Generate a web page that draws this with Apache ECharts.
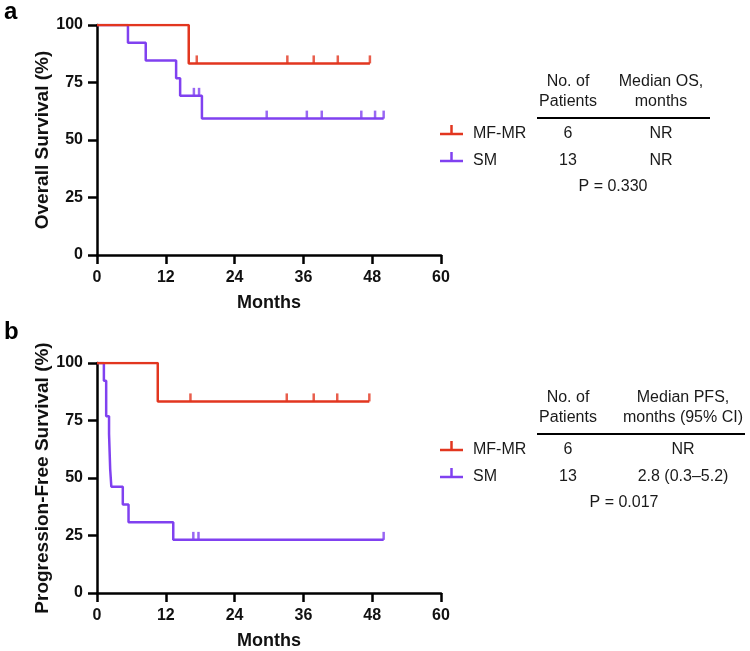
<!DOCTYPE html>
<html>
<head>
<meta charset="utf-8">
<script src="https://cdn.jsdelivr.net/npm/echarts@6/dist/echarts.min.js"></script>
<style>
  html, body { margin: 0; padding: 0; background: #fff; }
  #main { width: 750px; height: 651px; }
</style>
</head>
<body>
<div id="main"></div>
<script type="text/javascript">
  // x ticks / y ticks
  var xTicks = [0, 12, 24, 36, 48, 60];
  var yTicks = [0, 25, 50, 75, 100];

  // panel a - overall survival, [month, survival %]
  var osMf = [[0, 100], [16.0, 83.3], [47.6, 83.3]];
  var osMfCensor = [[17.4, 83.3], [33.2, 83.3], [37.8, 83.3], [42.0, 83.3], [47.6, 83.3]];
  var osSm = [[0, 100], [5.4, 92.3], [8.5, 84.6], [13.8, 76.9], [14.5, 69.2], [18.3, 59.3], [50.0, 59.3]];
  var osSmCensor = [[16.9, 69.2], [17.8, 69.2], [29.6, 59.3], [36.6, 59.3], [39.2, 59.3], [46.1, 59.3], [48.5, 59.3], [50.0, 59.3]];

  // panel b - progression-free survival
  var pfsMf = [[0, 100], [10.6, 83.3], [47.5, 83.3]];
  var pfsMfCensor = [[16.3, 83.3], [33.1, 83.3], [37.8, 83.3], [41.9, 83.3], [47.5, 83.3]];
  var pfsSm = [[0, 100], [1.2, 92.3], [1.6, 76.9], [2.1, 69.2], [2.3, 53.8], [2.5, 46.2], [4.5, 38.5], [5.5, 30.8], [13.3, 23.1], [50.0, 23.1]];
  var pfsSmCensor = [[16.8, 23.1], [17.7, 23.1], [50.0, 23.1]];

  // table contents
  var groups = ['MF-MR', 'SM'];
  var nPatients = ['6', '13'];
  var osMedian = ['NR', 'NR'];
  var pfsMedian = ['NR', '2.8 (0.3\u20135.2)'];
  var osP = 'P = 0.330';
  var pfsP = 'P = 0.017';

  var RED = '#e2361f';
  var PURPLE = '#8041f0';
  var FONT = '"Liberation Sans", Arial, Helvetica, sans-serif';

  function xAxisFor(grid) {
    return {
      type: 'value', gridIndex: grid, min: xTicks[0], max: xTicks[xTicks.length - 1], interval: 12,
      name: 'Months', nameLocation: 'middle', nameGap: 39,
      nameTextStyle: { fontFamily: FONT, fontWeight: 'bold', fontSize: 18, color: '#111' },
      axisLine: { show: true, onZero: false, lineStyle: { color: '#000', width: 2.5 } },
      axisTick: { show: true, length: 9, lineStyle: { color: '#000', width: 2.5 } },
      axisLabel: { margin: 15, fontFamily: FONT, fontWeight: 'bold', fontSize: 16, color: '#111' },
      splitLine: { show: false }
    };
  }
  function yAxisFor(grid, name) {
    return {
      type: 'value', gridIndex: grid, min: yTicks[0], max: yTicks[yTicks.length - 1], interval: 25,
      name: name, nameLocation: 'middle', nameGap: 44,
      nameTextStyle: { fontFamily: FONT, fontWeight: 'bold', fontSize: 19, color: '#111' },
      axisLine: { show: true, onZero: false, lineStyle: { color: '#000', width: 2.5 } },
      axisTick: { show: true, length: 9, lineStyle: { color: '#000', width: 2.5 } },
      axisLabel: { margin: 14, fontFamily: FONT, fontWeight: 'bold', fontSize: 16, color: '#111' },
      splitLine: { show: false }
    };
  }
  function curve(data, color, idx, z) {
    return {
      type: 'line', xAxisIndex: idx, yAxisIndex: idx, data: data, step: 'end',
      showSymbol: false, symbol: 'none', z: z,
      lineStyle: { color: color, width: 2.5 }
    };
  }
  function censor(data, color, idx, z) {
    return {
      type: 'scatter', xAxisIndex: idx, yAxisIndex: idx, data: data, z: z,
      symbol: 'rect', symbolSize: [2.5, 8], symbolOffset: [0, -4],
      itemStyle: { color: color }
    };
  }

  function txt(x, y, s, align, opts) {
    opts = opts || {};
    return {
      type: 'text', x: x, y: y,
      style: {
        text: s, fill: opts.fill || '#1a1a1a', align: align || 'center', verticalAlign: 'middle',
        font: (opts.weight || 'normal') + ' ' + (opts.size || 16) + 'px ' + FONT
      }
    };
  }
  function legendMark(x, y, color) {
    return [
      { type: 'line', shape: { x1: x, y1: y, x2: x + 23, y2: y }, style: { stroke: color, lineWidth: 2.5 } },
      { type: 'line', shape: { x1: x + 11.5, y1: y, x2: x + 11.5, y2: y - 9 }, style: { stroke: color, lineWidth: 2.5 } }
    ];
  }
  function table(top, col2Title, col2, pText, lineRight, col2X, pX) {
    var g = [];
    g.push(txt(568, top, 'No. of'));
    g.push(txt(568, top + 20, 'Patients'));
    g.push(txt(col2X, top, col2Title[0]));
    g.push(txt(col2X, top + 20, col2Title[1]));
    g.push({ type: 'line', shape: { x1: 537, y1: top + 36, x2: lineRight, y2: top + 36 }, style: { stroke: '#000', lineWidth: 2 } });
    var rows = [top + 52, top + 79];
    var colors = [RED, PURPLE];
    for (var i = 0; i < groups.length; i++) {
      g = g.concat(legendMark(440, rows[i], colors[i]));
      g.push(txt(473, rows[i], groups[i], 'left'));
      g.push(txt(568, rows[i], nPatients[i]));
      g.push(txt(col2X, rows[i], col2[i]));
    }
    g.push(txt(pX, top + 105, pText));
    return g;
  }

  var graphics = [txt(4, 12, 'a', 'left', { weight: 'bold', size: 24, fill: '#000' }),
                  txt(4, 332, 'b', 'left', { weight: 'bold', size: 24, fill: '#000' })];
  graphics = graphics.concat(table(82, ['Median OS,', 'months'], osMedian, osP, 710, 661, 613));
  graphics = graphics.concat(table(398, ['Median PFS,', 'months (95% CI)'], pfsMedian, pfsP, 745, 683, 624));

  var myChart = echarts.init(document.getElementById('main'), null, { renderer: 'canvas' });
  var option = {
    animation: false,
    backgroundColor: '#fff',
    grid: [
      { left: 97, top: 25, width: 344, height: 230, containLabel: false },
      { left: 97, top: 363, width: 344, height: 230, containLabel: false }
    ],
    xAxis: [xAxisFor(0), xAxisFor(1)],
    yAxis: [yAxisFor(0, 'Overall Survival (%)'), yAxisFor(1, 'Progression-Free Survival (%)')],
    series: [
      curve(osSm, PURPLE, 0, 2),
      censor(osSmCensor, PURPLE, 0, 2),
      curve(osMf, RED, 0, 3),
      censor(osMfCensor, RED, 0, 3),
      curve(pfsSm, PURPLE, 1, 2),
      censor(pfsSmCensor, PURPLE, 1, 2),
      curve(pfsMf, RED, 1, 3),
      censor(pfsMfCensor, RED, 1, 3)
    ],
    graphic: graphics
  };
  myChart.setOption(option);
</script>
</body>
</html>
